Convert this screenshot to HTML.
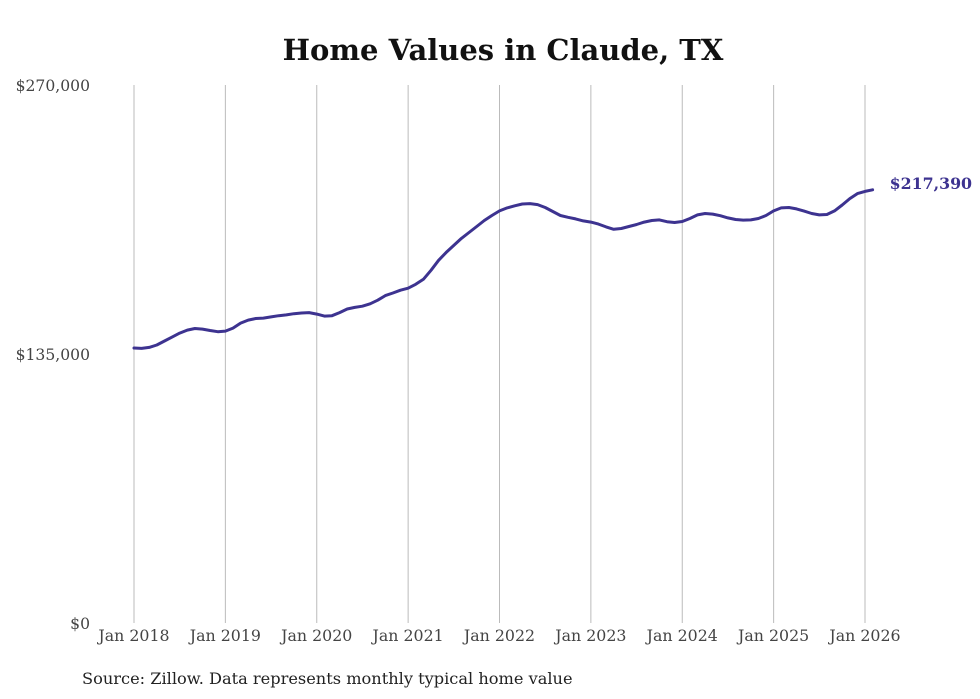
<!DOCTYPE html>
<html><head><meta charset="utf-8"><style>
body{margin:0;background:#fff;}
svg{display:block;}
</style></head><body>
<svg id="chart" width="980" height="699" xmlns="http://www.w3.org/2000/svg">
<text x="503" y="60" text-anchor="middle" font-family="'DejaVu Serif', serif" font-weight="bold" font-size="29" fill="#111">Home Values in Claude, TX</text>
<g id="grid"></g><g id="yaxis"></g><g id="xaxis"></g><g id="series"></g>
<text x="82" y="684" font-family="'DejaVu Serif', serif" font-size="16.2" fill="#222">Source: Zillow. Data represents monthly typical home value</text>
</svg>
<script>
const yTicks=[0,135000,270000];
const yTickLabels=["$0","$135,000","$270,000"];
const xYears=[2018,2019,2020,2021,2022,2023,2024,2025,2026];
const xTickLabels=["Jan 2018","Jan 2019","Jan 2020","Jan 2021","Jan 2022","Jan 2023","Jan 2024","Jan 2025","Jan 2026"];
const values=[138,137.8,138.3,139.5,141.5,143.5,145.5,147,147.8,147.5,146.8,146.2,
146.5,148,150.5,152,152.8,153,153.6,154.2,154.6,155.2,155.6,155.8,
155,154,154.2,155.8,157.6,158.4,159,160.2,162,164.3,165.6,167,
168,170,172.5,177,182,186,189.5,193,196,199,202,204.5,
206.8,208.3,209.4,210.3,210.5,210,208.5,206.5,204.5,203.6,202.8,201.8,
201.2,200.2,198.8,197.6,198,199,200,201.2,202,202.3,201.4,201,
201.5,203,204.8,205.5,205.2,204.4,203.3,202.5,202.2,202.3,203,204.5,
206.8,208.3,208.5,207.8,206.7,205.5,204.8,205,206.8,209.8,213,215.5,
216.6,217.39];
const endLabel="$217,390";
const NS="http://www.w3.org/2000/svg";
const x0=134,x1=865,y0=623,y1=85;
const xs=m=>x0+(x1-x0)*m/96;
const ys=v=>y0-(y0-y1)*v/270000;
function mk(t,a,p){const e=document.createElementNS(NS,t);for(const k in a)e.setAttribute(k,a[k]);p.appendChild(e);return e;}
const grid=document.getElementById('grid'),ya=document.getElementById('yaxis'),xa=document.getElementById('xaxis'),se=document.getElementById('series');
xYears.forEach((yr,i)=>{const x=xs((yr-2018)*12);
const l=mk('line',{x1:x,x2:x,y1:y1,y2:y0,stroke:'#bbb','stroke-width':1},grid);


const t=mk('text',{x:x,y:641,'text-anchor':'middle','font-family':"'DejaVu Serif', serif",'font-size':15.8,fill:'#444'},xa);
t.textContent=xTickLabels[i];

});
yTicks.forEach((v,i)=>{const t=mk('text',{x:90,y:ys(v)+6,'text-anchor':'end','font-family':"'DejaVu Serif', serif",'font-size':15.6,fill:'#444'},ya);
t.textContent=yTickLabels[i];

});
const d=values.map((v,i)=>(i?'L':'M')+xs(i).toFixed(1)+','+ys(v*1000).toFixed(1)).join(' ');
const p=mk('path',{d:d,fill:'none',stroke:'#3d3390','stroke-width':3,'stroke-linejoin':'round','stroke-linecap':'round'},se);


const li=values.length-1;
const lab=mk('text',{x:xs(li)+17,y:ys(values[li]*1000)-1,'font-family':"'DejaVu Serif', serif",'font-weight':'bold','font-size':15.8,fill:'#3d3390'},se);
lab.textContent=endLabel;


</script>
</body></html>
